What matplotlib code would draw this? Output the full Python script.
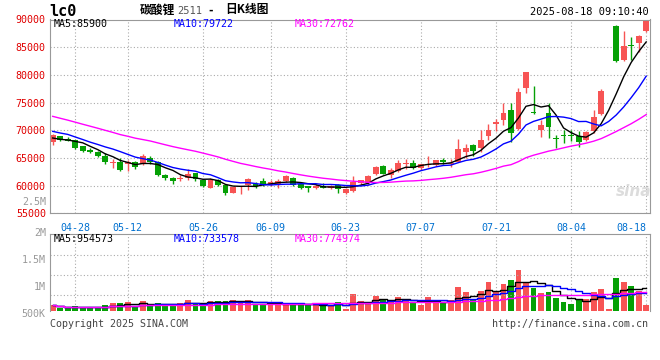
import matplotlib
matplotlib.use("Agg")
import matplotlib.pyplot as plt
import matplotlib.transforms as mtrans
import numpy as np
import pandas as pd

# closes before the visible window, only used to seed the moving averages
hist_close = [78600, 78200, 77900, 77500, 76800, 76200, 75600, 75400, 74900, 73300,
              73600, 72800, 72100, 72200, 71500, 70800, 70200, 70500, 69300, 69900,
              71200, 70600, 71500, 70900, 70800, 69400, 68700, 68100, 67600]

tick_idx = [3, 10, 20, 29, 39, 49, 59, 69, 79]
tick_lab = ["04-28", "05-12", "05-26", "06-09", "06-23", "07-07", "07-21", "08-04", "08-18"]

opens = [67900, 68900, 68360, 68200, 67130, 66370, 66100, 65400, 64150, 64200,
         63900, 64300, 63900, 64900, 64200, 62000, 61400, 61200, 61340, 62200,
         61000, 59650, 61070, 60120, 58700, 59700, 60120, 60360, 60830, 60120,
         60240, 60830, 61420, 60300, 59880, 59530, 59880, 59640, 60120, 58700,
         59050, 60400, 60480, 62040, 63590, 61920, 62640, 63950, 64070, 63110,
         63710, 63710, 64670, 63950, 64310, 66110, 67310, 66830, 68990, 71140,
         71860, 73660, 70300, 77610, 73240, 70060, 73180, 68630, 69100, 69220,
         68990, 68150, 69940, 72940, 81000, 88880, 82760, 85470, 85700, 87940]
highs = [69300, 69000, 68800, 68240, 67200, 66800, 66200, 65800, 64850, 64970,
         64700, 64500, 65700, 65400, 64400, 62100, 61600, 62000, 63000, 62300,
         61200, 61300, 61190, 60300, 59760, 60000, 61420, 60600, 61300, 60950,
         61200, 61900, 61540, 60470, 60000, 60240, 60470, 60120, 60360, 59530,
         61660, 61070, 61980, 63470, 63770, 63230, 64550, 64790, 64670, 63950,
         65390, 64670, 65030, 64790, 68390, 67550, 67550, 70060, 71140, 72100,
         74850, 74970, 77610, 80600, 77970, 71860, 74850, 69160, 70060, 70060,
         69940, 69820, 73660, 77370, 81000, 89000, 87940, 86760, 87120, 90000]
lows = [67400, 68000, 68000, 66700, 66100, 65900, 65100, 63900, 63100, 62700,
        62600, 63000, 63700, 63900, 61800, 61100, 60300, 60800, 61100, 60900,
        59800, 59500, 59880, 58340, 58600, 58460, 59170, 59640, 60000, 60000,
        59640, 60700, 60000, 59400, 58800, 59400, 59530, 59400, 58580, 58460,
        58800, 60120, 60180, 61920, 62040, 61320, 62520, 62990, 62990, 62880,
        63350, 63590, 63950, 63350, 64190, 64910, 65390, 66110, 68270, 69820,
        71020, 67910, 70060, 76770, 72940, 68750, 68510, 66770, 67670, 67970,
        66950, 68030, 69580, 72700, 81000, 82410, 82530, 82760, 84060, 87700]
closes = [69200, 68200, 68100, 66840, 66300, 66000, 65260, 64270, 64300, 62900,
          64200, 63300, 65300, 64300, 61900, 61300, 60900, 61460, 62160, 61200,
          60000, 61070, 60120, 58700, 59700, 59760, 61190, 59880, 60120, 60600,
          60830, 61660, 60120, 59580, 59530, 60000, 59640, 60000, 59400, 59400,
          60600, 61000, 61680, 63350, 62160, 62880, 64070, 64130, 63230, 63830,
          63950, 64550, 64190, 64070, 66590, 66830, 66230, 68150, 70060, 71500,
          73180, 69460, 76890, 80600, 73060, 70960, 70660, 68450, 68930, 68870,
          67790, 69700, 72340, 77130, 81000, 82530, 85240, 85290, 87000, 89700]
volume = [660000, 610000, 598000, 641000, 623000, 598000, 623000, 660000, 697000, 697000,
          716000, 623000, 734000, 660000, 697000, 660000, 660000, 697000, 753000, 697000,
          672000, 734000, 734000, 734000, 753000, 697000, 753000, 672000, 672000, 672000,
          672000, 672000, 672000, 660000, 672000, 672000, 660000, 660000, 721000, 580000,
          864000, 734000, 721000, 833000, 747000, 734000, 808000, 734000, 697000, 660000,
          808000, 734000, 697000, 747000, 994000, 901000, 771000, 920000, 1087000, 900000,
          1050000, 1124000, 1310000, 1082000, 982000, 883000, 901000, 790000, 715000, 678000,
          753000, 771000, 901000, 957000, 585000, 1162000, 1087000, 1013000, 920000, 660000]

RED = "#f75454"
GREEN = "#05a005"
MA_COLORS = {5: "black", 10: "#0000ff", 30: "#ff00ff"}
W, H = 660, 360


def box(left, top, right, bottom):
    return [left / W, 1 - bottom / H, (right - left) / W, (bottom - top) / H]


def px(x, y):
    return x / W, 1 - y / H


def main():
    plt.rcParams['font.family'] = ['DejaVu Sans Mono', 'Noto Sans CJK SC']
    plt.rcParams['font.size'] = 7.2

    fig = plt.figure(figsize=(6.6, 3.6), dpi=100)
    ax = fig.add_axes(box(50, 19.5, 649.5, 213.3))
    axv = fig.add_axes(box(50, 234.3, 649.5, 311), sharex=ax)

    x = np.arange(len(closes))
    o, h, l, c = (np.array(v, dtype=float) for v in (opens, highs, lows, closes))
    col = np.where(c >= o, RED, GREEN)

    # candles
    ax.vlines(x, l, h, colors=col, lw=1, zorder=2)
    ax.bar(x, np.maximum(np.abs(c - o), 130), bottom=np.minimum(o, c),
           width=0.78, color=col, lw=0, zorder=2)

    allc = pd.Series(hist_close + closes, dtype=float)
    n = len(hist_close)
    for win, colr in MA_COLORS.items():
        ma = allc.rolling(win).mean().to_numpy()[n:]
        ax.plot(x, ma, color=colr, lw=1, zorder=3)

    ax.set_xlim(-0.36, 79.44)
    ax.set_ylim(55000, 90000)
    ax.set_yticks(range(55000, 90001, 5000))
    ax.set_xticks(tick_idx)
    ax.set_xticklabels(tick_lab)
    ax.tick_params(axis='y', length=0, pad=3, labelcolor='#e00000')
    ax.tick_params(axis='x', length=0, pad=7, labelcolor='#0070d0')
    ax.get_xticklabels()[-1].set_horizontalalignment('right')
    ax.grid(True, ls=(0, (1, 2)), color='#aaaaaa', lw=0.8)
    for s in ax.spines.values():
        s.set_color('#999999')

    # volume
    vol = pd.Series(volume, dtype=float)
    axv.bar(x, vol, width=0.78, color=col, lw=0, zorder=2)
    for win, colr in MA_COLORS.items():
        axv.plot(x, vol.rolling(win, min_periods=1).mean(), color=colr, lw=1,
                 drawstyle='steps-mid', zorder=3)
    vmin, vmax = 548000, 1974000
    axv.set_ylim(vmin, vmax)
    axv.set_yticks([])
    axv.tick_params(axis='x', length=0, labelbottom=False)
    axv.grid(True, axis='x', ls=(0, (1, 2)), color='#aaaaaa', lw=0.8)
    for f in (0.212, 0.473, 0.734):
        axv.axhline(vmin + f * (vmax - vmin), ls=(0, (1, 2)), color='#aaaaaa', lw=0.8)
    for s in axv.spines.values():
        s.set_color('#999999')
    axv.spines['bottom'].set_visible(False)
    tr = mtrans.blended_transform_factory(axv.transAxes, axv.transData)
    for v, lab in ((500000, '500K'), (1e6, '1M'), (1.5e6, '1.5M'), (2e6, '2M')):
        axv.text(-0.007, v, lab, transform=tr, ha='right', va='center',
                 color='#999999', clip_on=False)
    # the 2.5M label sits squeezed above 55000 like in the sina picture
    fig.text(*px(46, 202), "2.5M", ha='right', va='center', color='#999999')

    # header and footer texts
    cjk = ['Noto Sans CJK SC', 'DejaVu Sans']
    fig.text(*px(140, 10), "碳酸锂", family=cjk, fontsize=8.5, weight='bold', va='center')
    fig.text(*px(177, 11), "2511", color='#555555', fontsize=7.5, va='center')
    fig.text(*px(208, 10), "-", family=cjk, fontsize=8.5, weight='bold', va='center')
    fig.text(*px(225, 10), "日K线图", family=cjk, fontsize=8.5, weight='bold', va='center')
    fig.text(*px(49, 11), "lc0", fontsize=11, weight='bold', va='center')
    fig.text(*px(649, 12), "2025-08-18 09:10:40", fontsize=7.5, ha='right', va='center')
    fig.text(*px(54, 24), "MA5:85900", va='center')
    fig.text(*px(174, 24), "MA10:79722", color='#0000ff', va='center')
    fig.text(*px(295, 24), "MA30:72762", color='#ff00ff', va='center')
    fig.text(*px(54, 239), "MA5:954573", va='center')
    fig.text(*px(174, 239), "MA10:733578", color='#0000ff', va='center')
    fig.text(*px(295, 239), "MA30:774974", color='#ff00ff', va='center')
    fig.text(*px(50, 324), "Copyright 2025 SINA.COM", color='#444444', va='center')
    fig.text(*px(648, 324), "http://finance.sina.com.cn", color='#444444', ha='right', va='center')
    fig.text(*px(634, 192), "sina", color='#dcdcdc', fontsize=11, style='italic',
             weight='bold', ha='center', va='center', family=['DejaVu Sans'])

    fig.savefig("out.png", dpi=100, facecolor='white')


if __name__ == '__main__':
    main()
